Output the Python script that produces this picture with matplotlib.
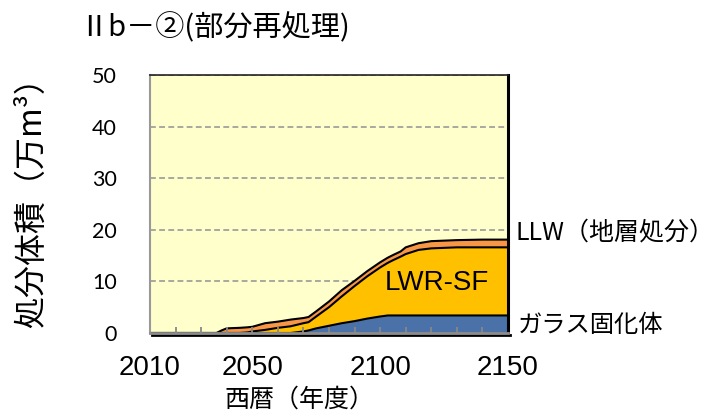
import numpy as np
import matplotlib
matplotlib.use("Agg")
import matplotlib.pyplot as plt
from matplotlib import patheffects as pe
from matplotlib.ticker import MultipleLocator, FixedLocator

plt.rcParams['font.family'] = ['Noto Sans CJK JP', 'DejaVu Sans']

# ---- data (万m3) ----
years = [2010, 2036, 2038, 2040, 2045, 2048, 2050, 2055, 2060, 2065, 2070, 2072,
         2075, 2080, 2085, 2090, 2095, 2100, 2103, 2105, 2108, 2110, 2115, 2120,
         2125, 2130, 2140, 2150]
glass = [0, 0, 0, 0, 0, 0, 0, 0, 0, 0, 0.3, 0.5,
         0.9, 1.4, 1.9, 2.3, 2.8, 3.2, 3.4, 3.4, 3.4, 3.4, 3.4, 3.4,
         3.4, 3.4, 3.4, 3.4]
lwr_sf = [0, 0, 0, 0, 0, 0.1, 0.3, 0.6, 1.0, 1.3, 1.6, 1.6,
          2.3, 3.6, 5.2, 6.8, 8.2, 9.5, 10.2, 10.7, 11.4, 11.9, 12.7, 13.0,
          13.1, 13.2, 13.2, 13.2]
llw = [0, 0, 0.5, 0.9, 1.0, 1.0, 0.9, 1.3, 1.2, 1.3, 1.0, 1.0,
       1.0, 1.1, 1.2, 1.0, 1.0, 1.0, 1.0, 1.0, 1.0, 1.3, 1.3, 1.4,
       1.4, 1.4, 1.5, 1.5]
layer_colors = ['#4A72A8', '#FFC000', '#F79646']
xtick_labels = [2010, 2050, 2100, 2150]
yticks = [0, 10, 20, 30, 40, 50]

title = 'Ⅱb－②(部分再処理)'
ylabel = '処分体積（万m³）'
xlabel = '西暦（年度）'
label_llw = 'LLW（地層処分）'
label_glass = 'ガラス固化体'
label_lwr = 'LWR-SF'

fig = plt.figure(figsize=(7.2, 4.17), dpi=100)
ax = fig.add_axes([150/720, 1-333/417, 358/720, 258/417])
ax.set_facecolor('#FFFFCC')

ax.stackplot(years, glass, lwr_sf, llw, colors=layer_colors, linewidth=0, zorder=1)
tops = np.cumsum(np.vstack([glass, lwr_sf, llw]), axis=0)
for t in tops:
    ax.plot(years, t, color='black', lw=1.5, zorder=1.2, solid_joinstyle='round')

ax.set_xlim(2010, 2150)
ax.set_ylim(0, 50)

for yv in yticks[1:]:
    ax.axhline(yv, color='#999999', lw=1.2, ls=(0, (3.5, 2)), zorder=0.5)

ax.xaxis.set_major_locator(FixedLocator(xtick_labels))
ax.xaxis.set_minor_locator(MultipleLocator(10))
ax.tick_params(axis='x', which='both', direction='in', length=4, width=1.3,
               color='#888888')
ax.tick_params(axis='x', which='major', pad=16, labelsize=20)
for lab in ax.get_xticklabels():
    lab.set_family(['Liberation Sans', 'DejaVu Sans'])
ax.set_yticks(yticks)
ax.tick_params(axis='y', length=0, pad=24, labelsize=15.5)
for lab in ax.get_yticklabels():
    lab.set_family(['Lato', 'DejaVu Sans'])

ax.spines['left'].set_color('#999999')
ax.spines['left'].set_linewidth(1.5)
ax.spines['bottom'].set_color('#8C8C8C')
ax.spines['bottom'].set_linewidth(2)
ax.spines['bottom'].set_path_effects([
    pe.SimpleLineShadow(offset=(1.5, -1.5), shadow_color='black', alpha=1),
    pe.Normal()])
ax.spines['right'].set_color('black')
ax.spines['right'].set_linewidth(2.2)
ax.spines['top'].set_color('#222222')
ax.spines['top'].set_linewidth(1.2)

ax.text(0.80, 0.195, label_lwr, transform=ax.transAxes, ha='center', va='center',
        fontsize=20, family=['Liberation Sans', 'DejaVu Sans'])

fig.text(215/720, 1-28/417, title, ha='center', va='center', fontsize=21)
fig.text(299/720, 1-400/417, xlabel, ha='center', va='center', fontsize=18)
fig.text(32/720, 1-195/417, ylabel, ha='center', va='center', fontsize=23,
         rotation=90)
fig.text(515/720, 1-232/417, label_llw, ha='left', va='center', fontsize=18)
fig.text(518/720, 1-325/417, label_glass, ha='left', va='center', fontsize=17.5)

fig.savefig('out.png', dpi=100)
